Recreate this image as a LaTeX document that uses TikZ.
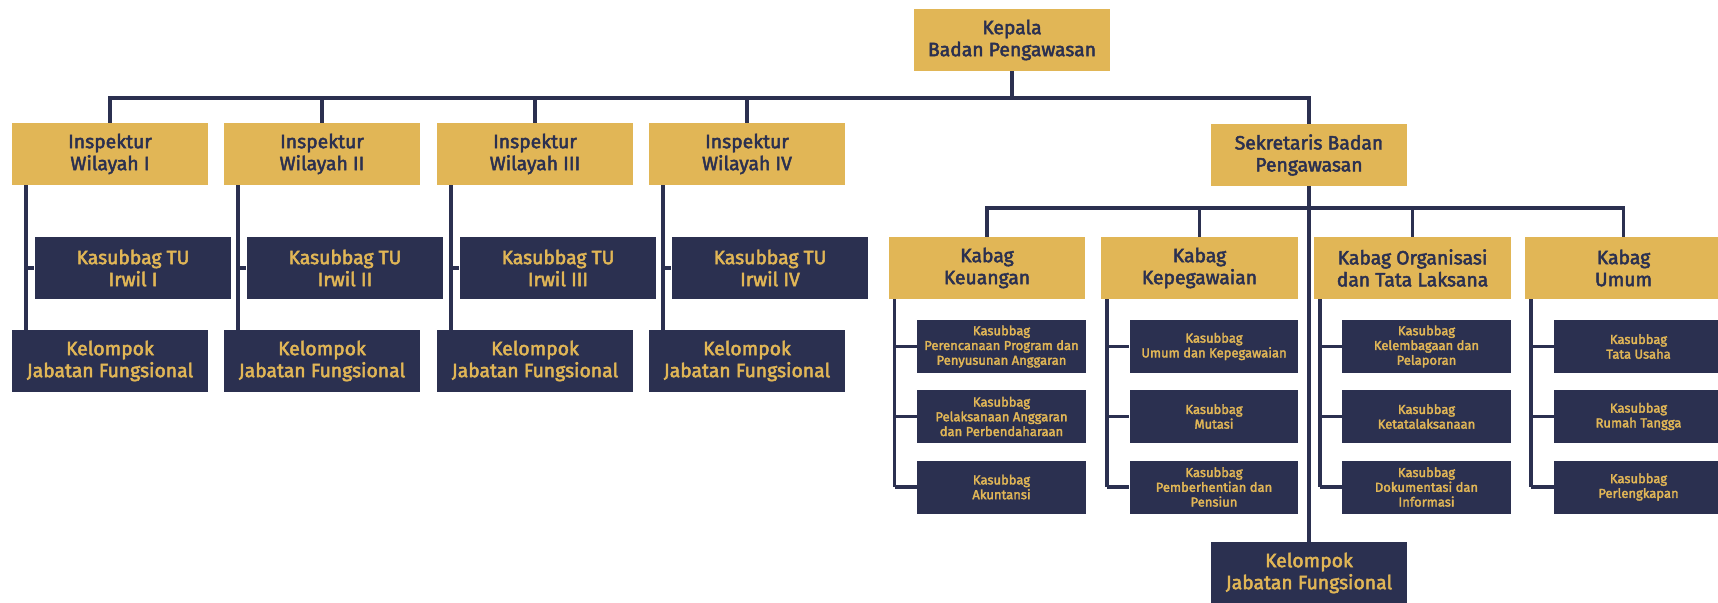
\documentclass[tikz,border=0pt]{standalone}
\usepackage{fontspec}
\setmainfont{Fira Sans}[FakeBold=2.5]
\definecolor{emas}{HTML}{E1B656}
\definecolor{biru}{HTML}{2B3050}

\begin{document}
\begin{tikzpicture}[x=0.02cm,y=-0.02cm,
    jabatan/.style={rectangle,fill=emas,text=biru,minimum width=3.94cm,minimum height=1.24cm,
      align=center,inner sep=1pt,font=\fontsize{11}{12.5}\selectfont},
    unit/.style={jabatan,fill=biru,text=emas},
    subunit/.style={unit,minimum width=3.38cm,minimum height=1.06cm,font=\fontsize{7.4}{8.4}\selectfont},
    garis/.style={draw=biru,line width=2pt}]
  \useasboundingbox (0,0) rectangle (1718,602);
  \coordinate (busA) at (0,98);
  \coordinate (busB) at (0,208);

  % pimpinan
  \node[jabatan] (kepala) at (1012,40) {Kepala\\Badan Pengawasan};
  \node[jabatan] (sekr) at (1309,155) {Sekretaris Badan\\Pengawasan};
  \node[unit] (kelsekr) at (1309,573) {Kelompok\\Jabatan Fungsional};

  % inspektur wilayah
  \foreach \i/\x/\r in {1/110/I,2/322/II,3/535/III,4/747/IV}{
    \node[jabatan] (insp\i) at (\x,154) {Inspektur\\Wilayah \r};
    \node[unit] (tu\i) at (\x+23,268) {Kasubbag TU\\Irwil \r};
    \node[unit] (kel\i) at (\x,361) {Kelompok\\Jabatan Fungsional};
    \draw[garis] (insp\i.north) -- (insp\i.north |- busA);
    \coordinate (t\i) at ([xshift=0.3cm]insp\i.south west);
    \draw[garis] (t\i) -- (t\i |- kel\i.north);
    \draw[garis] (t\i |- tu\i.west) -- (tu\i.west);
  }

  % kabag
  \node[jabatan] (keu) at (987,268) {Kabag\\Keuangan};
  \node[jabatan] (peg) at (1199.5,268) {Kabag\\Kepegawaian};
  \node[jabatan] (org) at (1412.5,268) {Kabag Organisasi\\dan Tata Laksana};
  \node[jabatan] (umum) at (1623.5,268) {Kabag\\Umum};

  % kasubbag
  \node[subunit] (keu1) at (1001.5,346.5) {Kasubbag\\Perencanaan Program dan\\Penyusunan Anggaran};
  \node[subunit] (keu2) at (1001.5,416.5) {Kasubbag\\Pelaksanaan Anggaran\\dan Perbendaharaan};
  \node[subunit] (keu3) at (1001.5,487) {Kasubbag\\Akuntansi};
  \node[subunit] (peg1) at (1214,346.5) {Kasubbag\\Umum dan Kepegawaian};
  \node[subunit] (peg2) at (1214,416.5) {Kasubbag\\Mutasi};
  \node[subunit] (peg3) at (1214,487) {Kasubbag\\Pemberhentian dan\\Pensiun};
  \node[subunit] (org1) at (1426.5,346.5) {Kasubbag\\Kelembagaan dan\\Pelaporan};
  \node[subunit] (org2) at (1426.5,416.5) {Kasubbag\\Ketatalaksanaan};
  \node[subunit] (org3) at (1426.5,487) {Kasubbag\\Dokumentasi dan\\Informasi};
  \node[subunit] (umum1) at (1638.5,346.5) {Kasubbag\\Tata Usaha};
  \node[subunit] (umum2) at (1638.5,416.5) {Kasubbag\\Rumah Tangga};
  \node[subunit] (umum3) at (1638.5,487) {Kasubbag\\Perlengkapan};

  % garis
  \draw[garis] (insp1.north) -- (insp1.north |- busA) -- (sekr.north |- busA) -- (sekr.north);
  \draw[garis] (kepala.south) -- (kepala.south |- busA);
  \draw[garis] (sekr.south) -- (kelsekr.north);
  \draw[garis] (keu.north) -- (keu.north |- busB) -- (umum.north |- busB) -- (umum.north);
  \draw[garis] (peg.north) -- (peg.north |- busB);
  \draw[garis] (org.north) -- (org.north |- busB);
  \foreach \k in {keu,peg,org,umum}{
    \coordinate (t\k) at ([xshift=0.13cm]\k.south west);
    \draw[garis] (t\k) -- (t\k |- \k3.west);
    \foreach \j in {1,2,3}
      \draw[garis] (t\k |- \k\j.west) -- (\k\j.west);
  }
\end{tikzpicture}
\end{document}
